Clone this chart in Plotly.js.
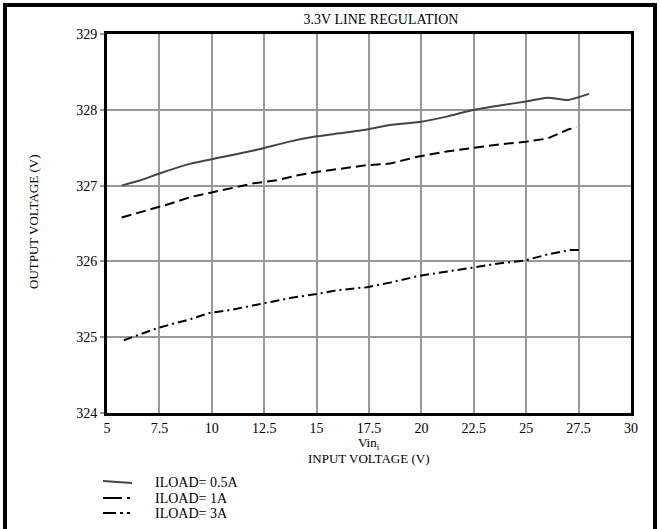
<!DOCTYPE html>
<html><head><meta charset="utf-8">
<script src="https://cdn.plot.ly/plotly-3.0.1.min.js"></script>
<style>
html,body{margin:0;padding:0;background:#fff;overflow:hidden;}
#chart{width:660px;height:529px;}
</style></head>
<body>
<div id="chart"></div>
<script>
// ILOAD = 0.5A
const vin05 = [5.7, 6.6, 7.5, 9.0, 10.2, 12.1, 13.7, 15.0, 16.1, 17.4, 18.5, 19.9, 21.2, 22.5, 23.8, 25.0, 26.0, 27.0, 28.0];
const vout05 = [327.0, 327.07, 327.16, 327.29, 327.36, 327.47, 327.58, 327.65, 327.69, 327.74, 327.8, 327.84, 327.91, 328.0, 328.06, 328.11, 328.16, 328.13, 328.21];
// ILOAD = 1A
const vin1 = [5.7, 7.0, 8.0, 9.0, 10.0, 10.9, 12.0, 13.1, 14.0, 15.0, 16.0, 17.4, 18.5, 19.8, 21.2, 22.5, 23.6, 25.0, 26.0, 27.0, 27.4];
const vout1 = [326.58, 326.68, 326.76, 326.85, 326.91, 326.96, 327.03, 327.07, 327.13, 327.18, 327.22, 327.27, 327.29, 327.38, 327.45, 327.5, 327.54, 327.58, 327.62, 327.74, 327.77];
// ILOAD = 3A
const vin3 = [5.8, 7.4, 9.0, 9.9, 10.9, 12.5, 13.8, 15.0, 16.0, 17.4, 18.5, 19.9, 21.2, 22.5, 23.6, 24.9, 26.0, 27.1, 27.6];
const vout3 = [324.96, 325.12, 325.24, 325.32, 325.36, 325.45, 325.52, 325.57, 325.62, 325.66, 325.72, 325.81, 325.87, 325.92, 325.97, 326.01, 326.09, 326.15, 326.15];

const xTicks = [5, 7.5, 10, 12.5, 15, 17.5, 20, 22.5, 25, 27.5, 30];
const xTickText = ['5', '7.5', '10', '12.5', '15', '17.5', '20', '22.5', '25', '27.5', '30'];
const yTicks = [324, 325, 326, 327, 328, 329];
const yTickText = ['324', '325', '326', '327', '328', '329'];
const seriesNames = ['ILOAD= 0.5A', 'ILOAD= 1A', 'ILOAD= 3A'];

const F = 'Liberation Serif, Times New Roman, serif';
const styles = [
  {color: '#444', width: 2, dash: 'solid'},
  {color: '#000', width: 2, dash: '10px,5px'},
  {color: '#000', width: 2, dash: '9px,4px,2px,4px'}
];
const legendStyles = [
  {color: '#444', width: 2, dash: 'solid'},
  {color: '#000', width: 2, dash: '19px,5px,3px,5px'},
  {color: '#000', width: 2, dash: '13px,4px,3px,4px,3px,4px'}
];

const traces = [
  {x: vin05, y: vout05, name: seriesNames[0], mode: 'lines', line: Object.assign({}, styles[0], {shape: 'spline', smoothing: 0.5})},
  {x: vin1, y: vout1, name: seriesNames[1], mode: 'lines', line: styles[1]},
  {x: vin3, y: vout3, name: seriesNames[2], mode: 'lines', line: styles[2]}
];

// pixel -> paper helpers (plot area 107..631 x 34..413)
const L = 107, R = 631, T = 34, B = 413;
const px = v => (v - L) / (R - L);
const py = v => (B - v) / (B - T);

const legendRows = [482, 498, 513];
const shapes = [];
const annotations = [];
// outer frame (left, top, right edges)
shapes.push({type: 'path', xref: 'paper', yref: 'paper',
  path: `M ${px(5)} ${py(535)} L ${px(5)} ${py(5)} L ${px(655)} ${py(5)} L ${px(655)} ${py(535)}`,
  line: {color: '#000', width: 4}});
seriesNames.forEach((n, i) => {
  const y = legendRows[i];
  shapes.push({type: 'line', xref: 'paper', yref: 'paper',
    x0: px(103), x1: px(132), y0: py(i === 0 ? y - 1 : y), y1: py(i === 0 ? y + 1 : y), line: legendStyles[i]});
  annotations.push({xref: 'paper', yref: 'paper', x: px(153), y: py(y), xanchor: 'left', yanchor: 'middle',
    text: n, showarrow: false, font: {family: F, size: 14, color: '#000'}});
});
annotations.push({xref: 'paper', yref: 'paper', x: px(369), y: py(443), xanchor: 'center', yanchor: 'middle',
  text: 'Vin<sub>i</sub>', showarrow: false, font: {family: F, size: 13, color: '#000'}});
annotations.push({xref: 'paper', yref: 'paper', x: px(369), y: py(458), xanchor: 'center', yanchor: 'middle',
  text: 'INPUT VOLTAGE (V)', showarrow: false, font: {family: F, size: 13, color: '#000'}});
annotations.push({xref: 'paper', yref: 'paper', x: px(33), y: py(222), xanchor: 'center', yanchor: 'middle',
  text: 'OUTPUT VOLTAGE (V)', textangle: -90, showarrow: false, font: {family: F, size: 13, color: '#000'}});

const layout = {
  width: 660, height: 529,
  margin: {l: L, r: 660 - R, t: T, b: 529 - B},
  paper_bgcolor: '#fff', plot_bgcolor: '#fff',
  font: {family: F, size: 14, color: '#000'},
  title: {text: '3.3V LINE REGULATION', font: {family: F, size: 14, color: '#000'}, x: 0.523, xref: 'paper', xanchor: 'center', y: 0.964, yanchor: 'middle'},
  xaxis: {
    range: [5, 30], tickmode: 'array', tickvals: xTicks, ticktext: xTickText,
    showgrid: true, gridcolor: '#999', gridwidth: 2,
    showline: true, linecolor: '#000', linewidth: 3, mirror: true,
    ticks: '', zeroline: false, automargin: false,
    tickfont: {family: F, size: 14, color: '#000'}
  },
  yaxis: {
    range: [324, 329], tickmode: 'array', tickvals: yTicks, ticktext: yTickText,
    showgrid: true, gridcolor: '#999', gridwidth: 2,
    showline: true, linecolor: '#000', linewidth: 3, mirror: true,
    ticks: 'outside', ticklen: 4, tickcolor: '#999', tickwidth: 2, zeroline: false, automargin: false,
    tickfont: {family: F, size: 14, color: '#000'}
  },
  showlegend: false,
  shapes: shapes,
  annotations: annotations
};

Plotly.newPlot('chart', traces, layout, {displayModeBar: false, staticPlot: true});
</script>
</body></html>
